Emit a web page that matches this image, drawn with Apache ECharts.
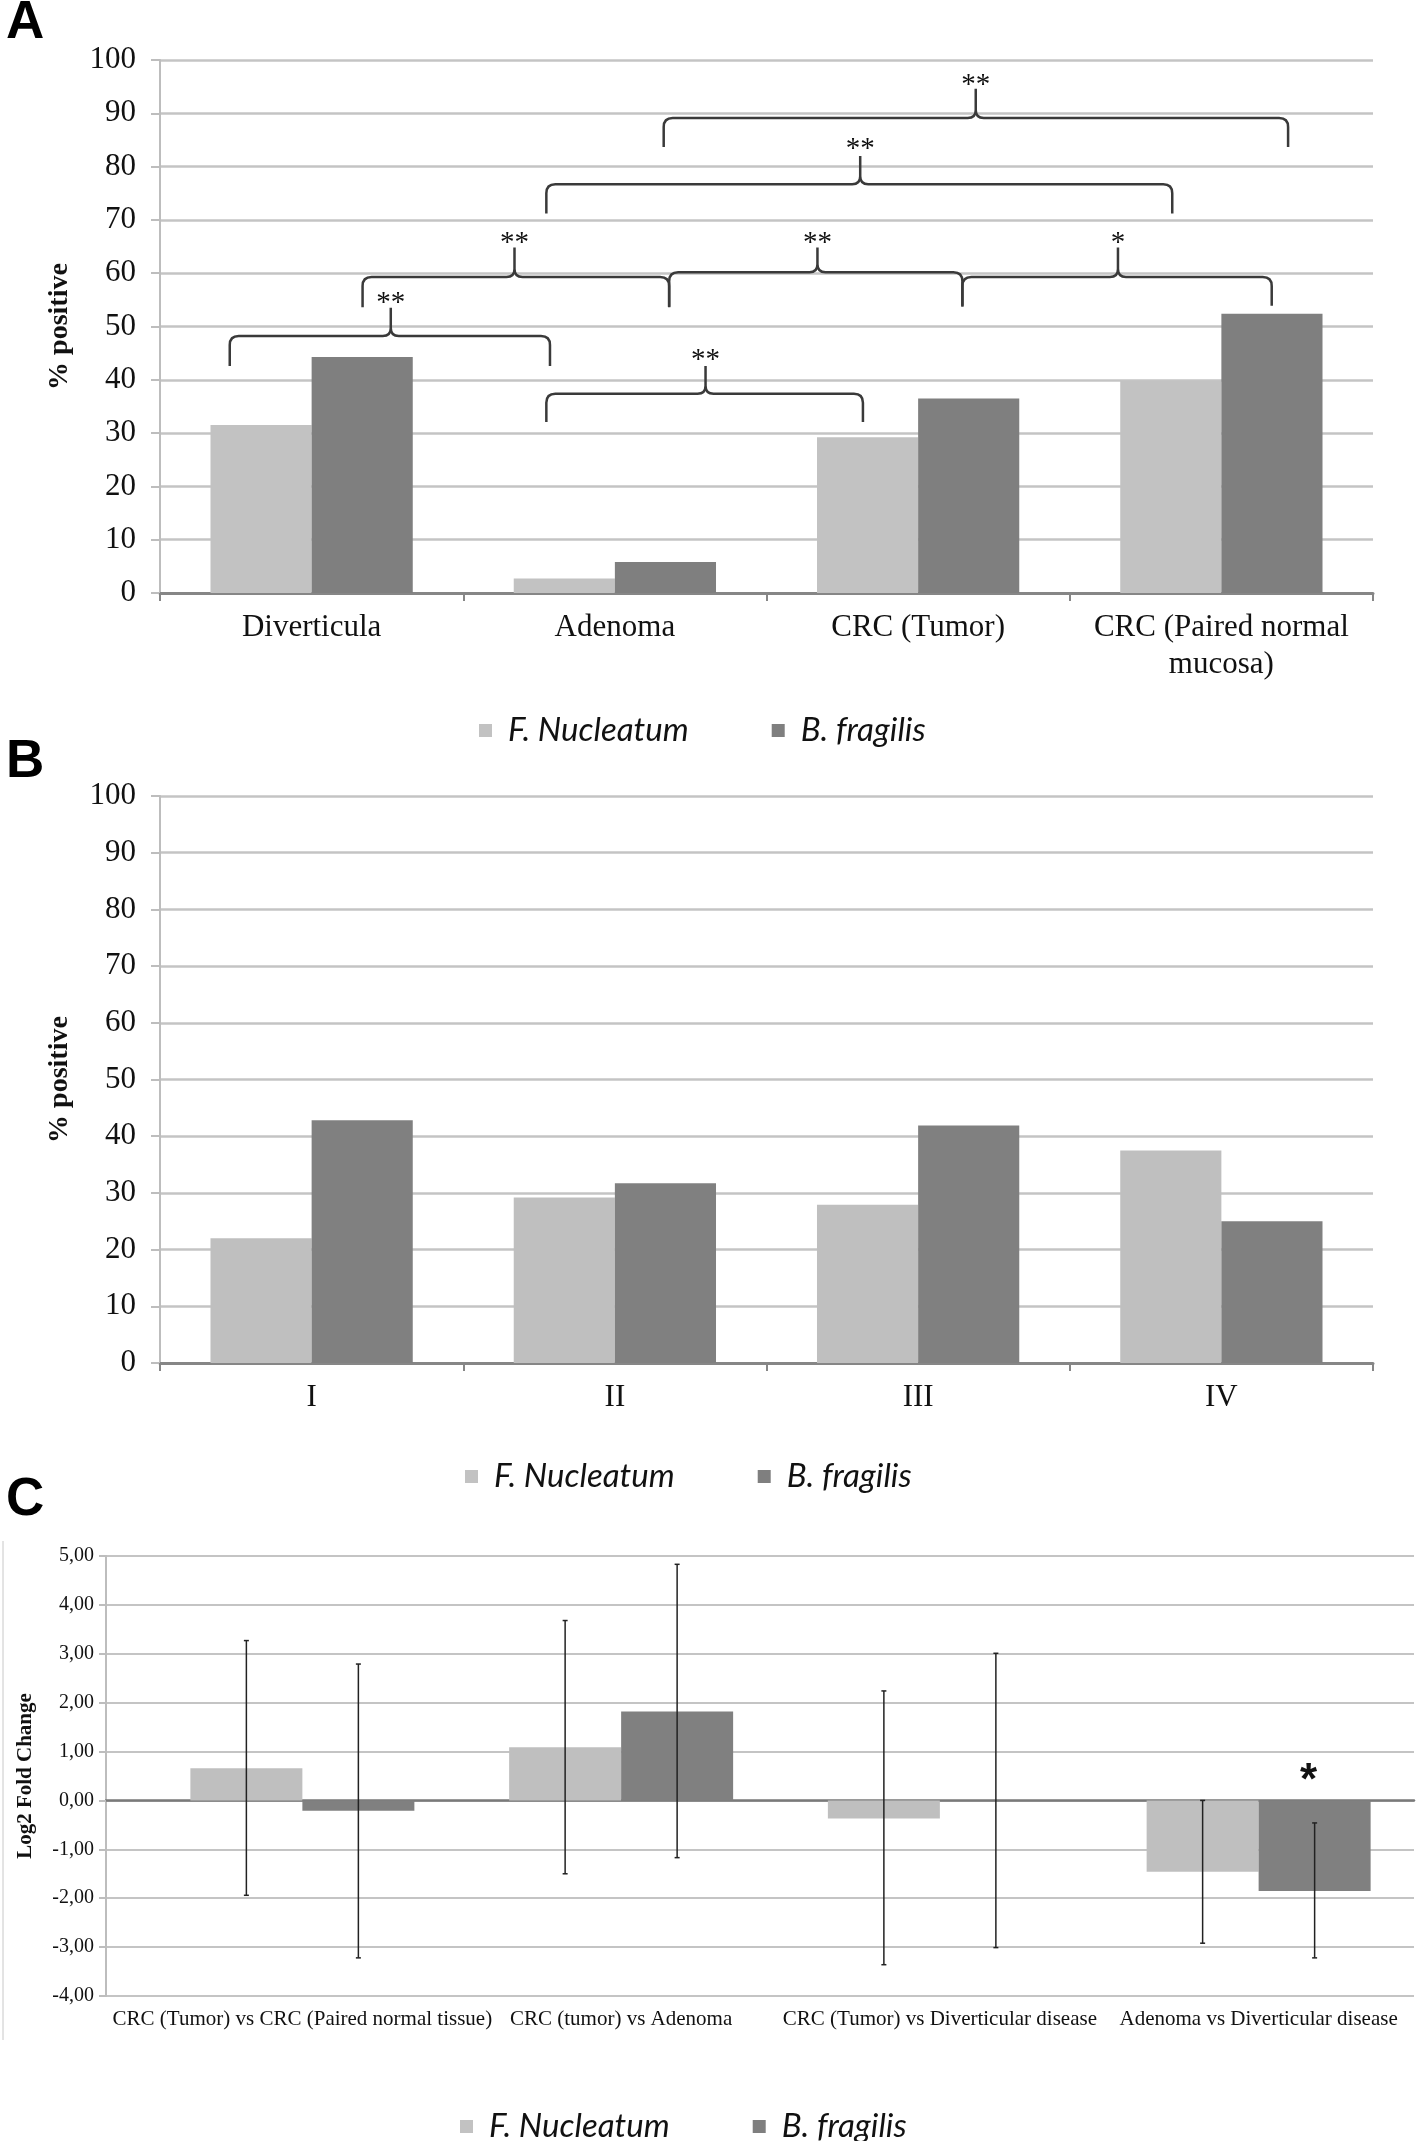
<!DOCTYPE html>
<html><head><meta charset="utf-8">
<script src="https://cdn.jsdelivr.net/npm/echarts@6/dist/echarts.min.js"></script>
<style>html,body{margin:0;padding:0;background:#fff}#c{width:1418px;height:2141px}</style>
</head><body><div id="c"></div>
<script>
// ---------- DATA ----------
const seriesNames = ['F. Nucleatum', 'B. fragilis'];

// Panel A
const catsA = ['Diverticula', 'Adenoma', 'CRC (Tumor)', 'CRC (Paired normal\nmucosa)'];
const fnA = [31.5, 2.7, 29.2, 39.8];
const bfA = [44.3, 5.8, 36.5, 52.4];
// significance brackets of panel A (x in category units, y in % positive)
const brX1 = [-0.27, 0.774, 0.168, 1.179, 2.146, 0.774, 1.161];
const brX2 = [0.786, 1.818, 1.179, 2.146, 3.166, 2.838, 3.220];
const brPeakX = [0.261, 1.299, 0.669, 1.668, 2.659, 1.809, 2.190];
const brLevel = [48.2, 37.4, 59.3, 60.2, 59.3, 76.7, 89.1];
const brLegLow = [42.6, 32.1, 53.6, 53.7, 53.9, 71.2, 83.7];
const brPeakTop = [53.5, 42.6, 64.8, 64.8, 64.8, 82.0, 94.6];
const brLabelY = [55.3, 44.6, 66.5, 66.5, 66.5, 84.1, 96.2];
const brLabel = ['**', '**', '**', '**', '*', '**', '**'];

// Panel B
const catsB = ['I', 'II', 'III', 'IV'];
const fnB = [22.0, 29.2, 27.9, 37.5];
const bfB = [42.8, 31.7, 41.9, 25.0];

// Panel C
const catsC = ['CRC (Tumor) vs CRC (Paired normal tissue)', 'CRC (tumor) vs Adenoma',
  'CRC (Tumor) vs Diverticular disease', 'Adenoma vs Diverticular disease'];
const fnC = [0.66, 1.09, -0.37, -1.46];
const bfC = [-0.21, 1.82, 0.0, -1.85];
const fnCLow = [-1.94, -1.50, -3.36, -2.92];
const fnCHigh = [3.27, 3.68, 2.24, 0.0];
const bfCLow = [-3.22, -1.17, -3.01, -3.22];
const bfCHigh = [2.79, 4.83, 3.01, -0.46];
const starC = [{ cat: 3, series: 1, y: 0.6, text: '*' }];

// ---------- STYLE ----------
const LIGHT = '#c2c2c2', DARK = '#7f7f7f';
const SERIF = '"Liberation Serif", "Times New Roman", serif';
const BAR_W_C = 112;
const gridCol = '#c4c4c4';

const chart = echarts.init(document.getElementById('c'), null, { renderer: 'canvas' });

function yAxisPct(gridIndex) {
  return {
    type: 'value', gridIndex, min: 0, max: 100, interval: 10,
    axisLine: { show: true, onZero: false, lineStyle: { color: '#bdbdbd', width: 2 } },
    axisTick: { show: true, length: 9, lineStyle: { color: '#bdbdbd', width: 2 } },
    splitLine: { show: true, lineStyle: { color: gridCol, width: 2.5 } },
    axisLabel: { fontFamily: SERIF, fontSize: 31, color: '#111', margin: 24 },
    name: '% positive', nameLocation: 'middle', nameGap: 86, nameRotate: 90,
    nameTextStyle: { fontFamily: SERIF, fontSize: 28, fontWeight: 'bold', color: '#111' }
  };
}
function xAxisCat(gridIndex, data) {
  return {
    type: 'category', gridIndex, data,
    axisLine: { show: true, onZero: false, lineStyle: { color: '#868686', width: 3 } },
    axisTick: { show: true, length: 8, lineStyle: { color: '#868686', width: 2 } },
    axisLabel: { fontFamily: SERIF, fontSize: 31, color: '#111', margin: 16, lineHeight: 37, interval: 0 },
    splitLine: { show: false }
  };
}

const bracketData = brX1.map((x, i) => [x, brLevel[i], brX2[i], brLegLow[i], brPeakX[i], brPeakTop[i], brLabelY[i]]);

function renderBracket(params, api) {
  const i = params.dataIndex;
  const x1 = api.value(0), lvl = api.value(1), x2 = api.value(2), leg = api.value(3),
        px = api.value(4), pt = api.value(5), ly = api.value(6);
  const L = api.coord([x1, leg]), LT = api.coord([x1, lvl]);
  const R = api.coord([x2, leg]), RT = api.coord([x2, lvl]);
  const P = api.coord([px, pt]), PL = api.coord([px, lvl]);
  const LB = api.coord([px, ly]);
  const r = 9, c = 8;
  const d = 'M' + L[0] + ',' + L[1] +
    ' L' + LT[0] + ',' + (LT[1] + r) +
    ' Q' + LT[0] + ',' + LT[1] + ' ' + (LT[0] + r) + ',' + LT[1] +
    ' L' + (PL[0] - c) + ',' + PL[1] +
    ' Q' + PL[0] + ',' + PL[1] + ' ' + PL[0] + ',' + (PL[1] - c) +
    ' L' + P[0] + ',' + P[1] +
    ' M' + PL[0] + ',' + (PL[1] - c) +
    ' Q' + PL[0] + ',' + PL[1] + ' ' + (PL[0] + c) + ',' + PL[1] +
    ' L' + (RT[0] - r) + ',' + RT[1] +
    ' Q' + RT[0] + ',' + RT[1] + ' ' + RT[0] + ',' + (RT[1] + r) +
    ' L' + R[0] + ',' + R[1];
  return {
    type: 'group',
    children: [
      { type: 'path', shape: { pathData: d }, style: { fill: null, stroke: '#3a3a3a', lineWidth: 2.5 } },
      { type: 'text', style: { text: brLabel[i], x: P[0], y: LB[1] + 5, align: 'center', verticalAlign: 'middle',
          fontFamily: SERIF, fontSize: 29, fill: '#111' } }
    ]
  };
}

const errData = [];
for (let i = 0; i < catsC.length; i++) {
  errData.push([i, fnCLow[i], fnCHigh[i], 0]);
  errData.push([i, bfCLow[i], bfCHigh[i], 1]);
}
function renderErr(params, api) {
  const cat = api.value(0), lo = api.value(1), hi = api.value(2), s = api.value(3);
  const pLo = api.coord([cat, lo]), pHi = api.coord([cat, hi]);
  const x = pLo[0] + (s === 0 ? -BAR_W_C / 2 : BAR_W_C / 2);
  const st = { stroke: '#222', lineWidth: 1.5 };
  return {
    type: 'group', children: [
      { type: 'line', shape: { x1: x, y1: pLo[1], x2: x, y2: pHi[1] }, style: st },
      { type: 'line', shape: { x1: x - 2.5, y1: pLo[1], x2: x + 2.5, y2: pLo[1] }, style: st },
      { type: 'line', shape: { x1: x - 2.5, y1: pHi[1], x2: x + 2.5, y2: pHi[1] }, style: st }
    ]
  };
}
function renderStar(params, api) {
  const it = starC[params.dataIndex];
  const p = api.coord([api.value(0), api.value(1)]);
  const x = p[0] + (it.series === 0 ? -BAR_W_C / 2 : BAR_W_C / 2);
  return { type: 'text', style: { text: it.text, x: x - 6, y: p[1] + 11, align: 'center', verticalAlign: 'middle',
    fontFamily: '"Liberation Sans", Arial, sans-serif', fontWeight: 'bold', fontSize: 44, fill: '#111' } };
}

const legendBase = {
  data: seriesNames, icon: 'rect', itemWidth: 13, itemHeight: 13, itemGap: 83, padding: 0,
  selectedMode: false, orient: 'horizontal',
  textStyle: { fontFamily: 'Lato, "Open Sans", sans-serif', fontStyle: 'italic', fontSize: 33, color: '#111', padding: [0, 0, 0, 11] }
};
const titleStyle = { fontFamily: '"Liberation Sans", Arial, sans-serif', fontWeight: 'bold', fontSize: 53, color: '#000' };

chart.setOption({
  animation: false,
  backgroundColor: '#fff',
  title: [
    { text: 'A', left: 6, top: -3, padding: 0, textStyle: titleStyle },
    { text: 'B', left: 6, top: 736, padding: 0, textStyle: titleStyle },
    { text: 'C', left: 6, top: 1474, padding: 0, textStyle: titleStyle }
  ],
  legend: [
    Object.assign({}, legendBase, { left: 479, top: 714 }),
    Object.assign({}, legendBase, { left: 465, top: 1460 }),
    Object.assign({}, legendBase, { left: 460, top: 2110 })
  ],
  grid: [
    { left: 160, top: 60, width: 1213, height: 533 },
    { left: 160, top: 796, width: 1213, height: 567 },
    { left: 106, top: 1556, width: 1308, height: 440 },
    { left: 143, top: 1556, width: 1279, height: 440 }
  ],
  xAxis: [
    xAxisCat(0, catsA),
    { type: 'value', gridIndex: 0, min: -0.5, max: 3.5, show: false },
    xAxisCat(1, catsB),
    { type: 'category', gridIndex: 2, data: catsC,
      axisLine: { show: true, onZero: true, lineStyle: { color: '#7a7a7a', width: 2.5 } },
      axisTick: { show: false }, axisLabel: { show: false }, splitLine: { show: false } },
    { type: 'category', gridIndex: 3, data: catsC, position: 'bottom',
      axisLine: { show: false, onZero: false }, axisTick: { show: false }, splitLine: { show: false },
      axisLabel: { fontFamily: SERIF, fontSize: 21, color: '#111', margin: 13, interval: 0 } }
  ],
  yAxis: [
    yAxisPct(0),
    yAxisPct(1),
    { type: 'value', gridIndex: 2, min: -4, max: 5, interval: 1,
      axisLine: { show: true, onZero: false, lineStyle: { color: '#bdbdbd', width: 2 } },
      axisTick: { show: true, length: 7, lineStyle: { color: '#bdbdbd', width: 2 } },
      splitLine: { show: true, lineStyle: { color: gridCol, width: 2 } },
      axisLabel: { fontFamily: SERIF, fontSize: 20, color: '#111', margin: 12,
        formatter: v => v.toFixed(2).replace('.', ',') },
      name: 'Log2 Fold Change', nameLocation: 'middle', nameGap: 70, nameRotate: 90,
      nameTextStyle: { fontFamily: SERIF, fontSize: 21, fontWeight: 'bold', color: '#111' } },
    { type: 'value', gridIndex: 3, min: -4, max: 5, interval: 1, show: false, splitLine: { show: false } }
  ],
  series: [
    { type: 'bar', name: seriesNames[0], xAxisIndex: 0, yAxisIndex: 0, data: fnA, barGap: '0%', barCategoryGap: '33.3%', itemStyle: { color: LIGHT } },
    { type: 'bar', name: seriesNames[1], xAxisIndex: 0, yAxisIndex: 0, data: bfA, barGap: '0%', barCategoryGap: '33.3%', itemStyle: { color: DARK } },
    { type: 'custom', name: 'brackets', xAxisIndex: 1, yAxisIndex: 0, data: bracketData, renderItem: renderBracket,
      encode: { x: [0, 2, 4], y: [1, 3, 5] }, silent: true, clip: false, z: 5 },
    { type: 'bar', name: seriesNames[0], xAxisIndex: 2, yAxisIndex: 1, data: fnB, barGap: '0%', barCategoryGap: '33.3%', itemStyle: { color: '#bfbfbf' } },
    { type: 'bar', name: seriesNames[1], xAxisIndex: 2, yAxisIndex: 1, data: bfB, barGap: '0%', barCategoryGap: '33.3%', itemStyle: { color: '#808080' } },
    { type: 'bar', name: seriesNames[0], xAxisIndex: 4, yAxisIndex: 3, data: fnC, barGap: '0%', barWidth: BAR_W_C, itemStyle: { color: '#bfbfbf' } },
    { type: 'bar', name: seriesNames[1], xAxisIndex: 4, yAxisIndex: 3, data: bfC, barGap: '0%', barWidth: BAR_W_C, itemStyle: { color: '#808080' } },
    { type: 'custom', name: 'errors', xAxisIndex: 4, yAxisIndex: 3, data: errData, renderItem: renderErr,
      encode: { x: 0, y: [1, 2] }, silent: true, clip: false, z: 5 },
    { type: 'custom', name: 'starC', xAxisIndex: 4, yAxisIndex: 3, data: starC.map(s => [s.cat, s.y]), renderItem: renderStar,
      encode: { x: 0, y: 1 }, silent: true, clip: false, z: 6 }
  ],
  graphic: [
    { type: 'line', shape: { x1: 3, y1: 1541, x2: 3, y2: 2040 }, style: { stroke: '#c8c8c8', lineWidth: 1 } }
  ]
});
</script>
</body></html>
